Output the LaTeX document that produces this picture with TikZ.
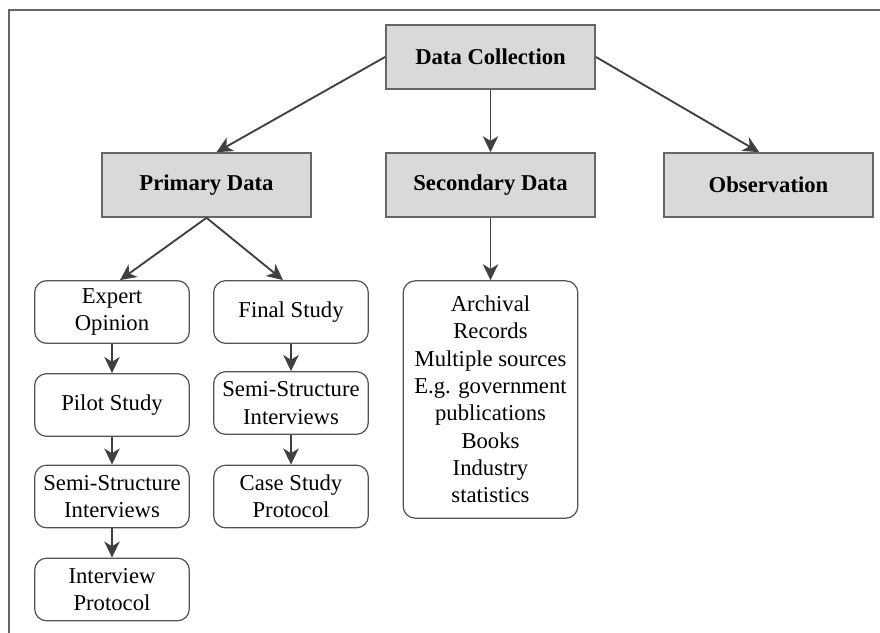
\documentclass[tikz,border=0pt]{standalone}
\usepackage{fontspec}
\setmainfont{Liberation Serif}
\usetikzlibrary{arrows.meta}

\definecolor{boxgray}{HTML}{D9D9D9}
\definecolor{linegray}{HTML}{404040}

\tikzset{
    head/.style={draw=linegray!80, fill=boxgray, line width=1.2pt, minimum width=157pt, minimum height=48pt, font=\fontsize{17}{20.5}\selectfont\bfseries},
    item/.style={draw=linegray!90, rounded corners=9pt, line width=0.9pt, minimum width=116pt, minimum height=47pt, align=center, font=\fontsize{17}{20.5}\selectfont},
    link/.style={-{Stealth[length=12pt,width=11.5pt,inset=3.5pt]}, draw=linegray, line width=1.4pt}
}

\begin{document}
\begin{tikzpicture}[x=0.75pt,y=-0.75pt]
        \useasboundingbox (0,0) rectangle (880,632);
        % Frame
        \draw[linegray!80, line width=1pt] (9,640) -- (9,10) -- (890,10);

        % Nodes
        \node(dc) [head] at (490.5,57) {Data Collection};
        \node(prim) [head] at (206.5,185) {Primary Data};
        \node(sec) [head] at (490.5,185) {Secondary Data};
        \node(obs) [head] at (768.5,185) {Observation};

        \node(expert) [item] at (112,312) {Expert\\Opinion};
        \node(pilot) [item] at (112,405) {Pilot Study};
        \node(semil) [item] at (112,496.5) {Semi-Structure\\Interviews};
        \node(protocol) [item] at (112,589.5) {Interview\\Protocol};

        \node(final) [item] at (291,312) {Final Study};
        \node(semir) [item] at (291,403) {Semi-Structure\\Interviews};
        \node(casestudy) [item] at (291,496.5) {Case Study\\Protocol};

        \node(sources) [item, minimum width=131pt, minimum height=178pt] at (490.5,399.5) {Archival\\Records\\Multiple sources\\E.g. government\\publications\\Books\\Industry\\statistics};

        % Edges
        \draw[link] (dc.west) -- ([xshift=7.5pt]prim.north);
        \draw[link] (dc.south) -- (sec.north);
        \draw[link] (dc.east) -- ([xshift=-7pt]obs.north);
        \draw[link] (prim.south) -- ([xshift=6pt]expert.north);
        \draw[link] (prim.south) -- ([xshift=-6pt]final.north);
        \draw[link] (sec.south) -- (sources.north);
        \draw[link] (expert) -- (pilot);
        \draw[link] (pilot) -- (semil);
        \draw[link] (semil) -- (protocol);
        \draw[link] (final) -- (semir);
        \draw[link] (semir) -- (casestudy);

    \end{tikzpicture}
\end{document}
